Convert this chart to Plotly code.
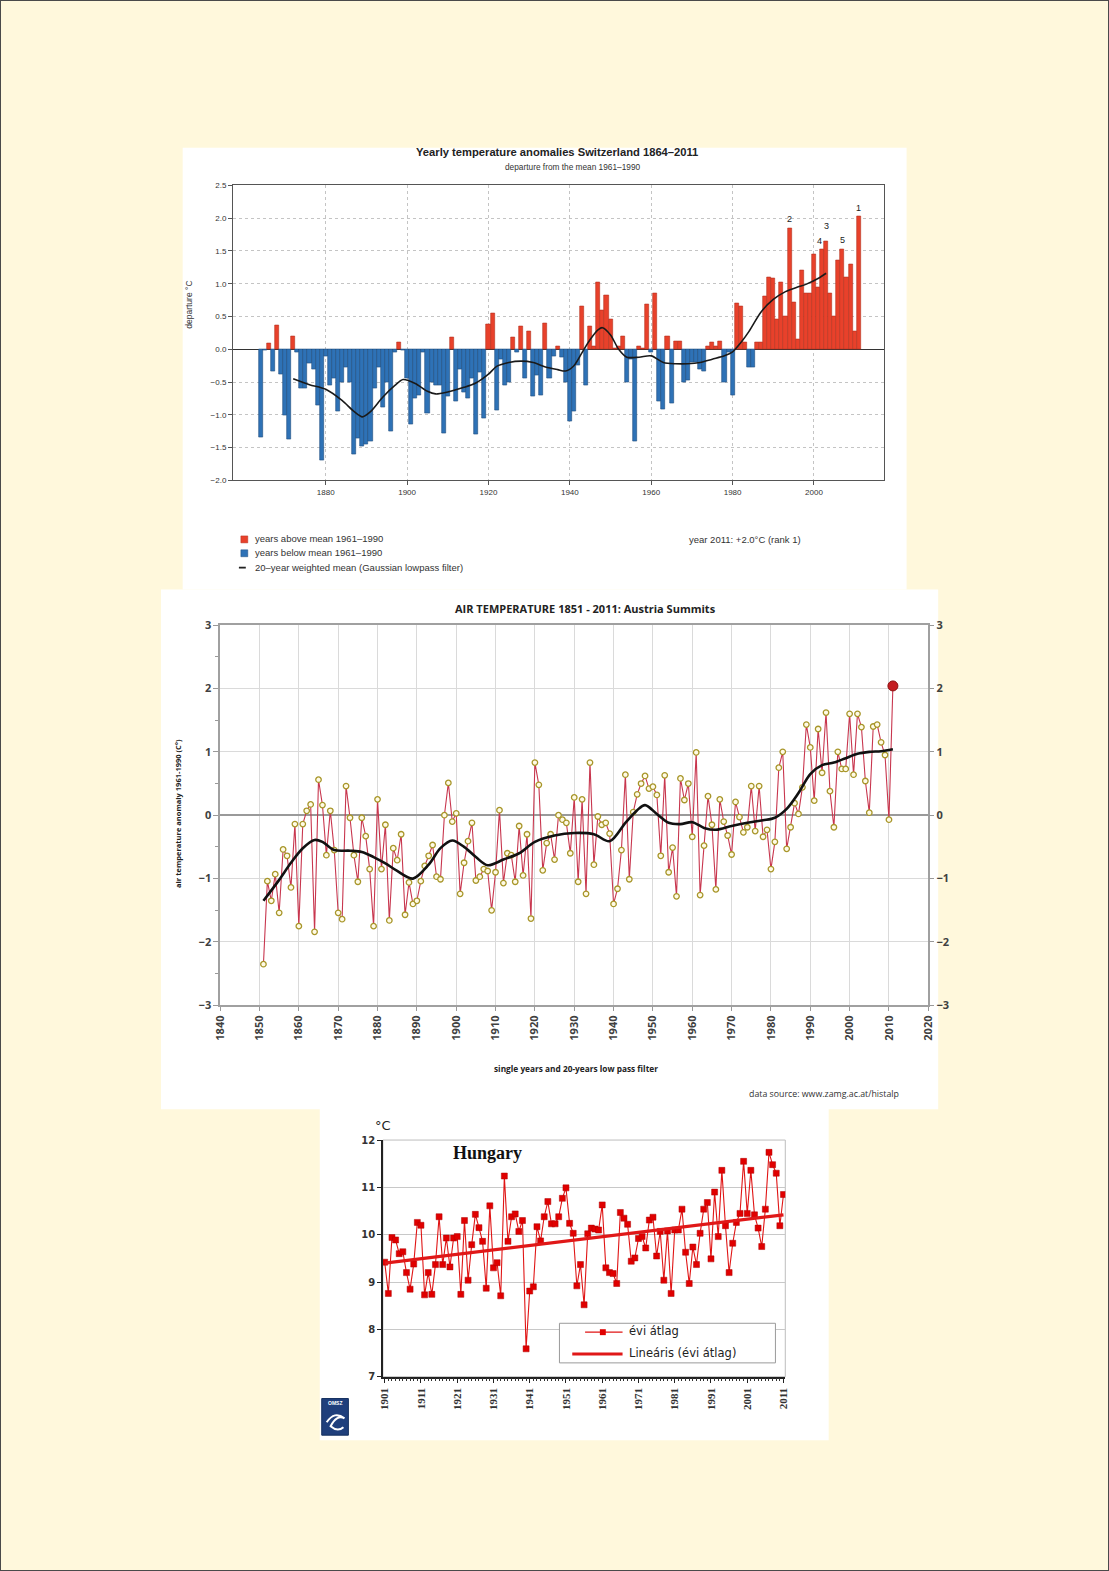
import plotly.graph_objects as go

# design coordinates are in the 1109x1571 page; the figure itself is drawn
# inside the page's 8px body margin.
PAGE_W, PAGE_H = 1109, 1571
OFF = 8
FW, FH = PAGE_W - 2 * OFF, PAGE_H - 2 * OFF
def X(px): return (px - OFF) / FW
def Y(py): return 1 - (py - OFF) / FH

# ---------------- Switzerland (bars) ----------------
ch_years = list(range(1864, 2012))
ch_vals = [
    -1.34, -0.02, 0.09, -0.33, 0.37, -0.38, -1.00, -1.38, 0.20, -0.05,   # 1864-1873
    -0.60, -0.60, -0.22, -0.30, -0.85, -1.70, -0.10, -0.55, -0.45, -0.95,  # 1874-1883
    -0.50, -0.28, -0.50, -1.60, -1.35, -1.48, -1.45, -1.40, -0.60, -0.28,  # 1884-1893
    -0.88, -0.50, -1.25, -0.05, 0.10, -0.02, -0.45, -1.15, -0.75, -0.70,   # 1894-1903
    -0.05, -0.98, -0.50, -0.55, -0.55, -1.28, -0.72, 0.19, -0.80, -0.30,   # 1904-1913
    -0.65, -0.75, -0.45, -1.30, -0.35, -1.05, 0.38, 0.55, -0.93, -0.15,    # 1914-1923
    -0.55, -0.50, 0.18, -0.05, 0.35, -0.45, 0.27, -0.72, -0.40, -0.70,     # 1924-1933
    0.39, -0.45, -0.10, 0.05, -0.12, -0.50, -1.10, -0.95, -0.25, 0.65,     # 1934-1943
    -0.55, 0.35, 0.05, 1.02, 0.60, 0.82, 0.45, 0.02, 0.05, 0.20,           # 1944-1953
    -0.50, -0.15, -1.40, 0.05, 0.02, 0.68, -0.05, 0.85, -0.80, -0.92,      # 1954-1963
    0.20, -0.82, 0.12, 0.12, -0.50, -0.48, -0.20, -0.20, -0.30, -0.33,     # 1964-1973
    0.05, 0.10, 0.05, 0.12, -0.50, -0.05, -0.70, 0.70, 0.65, 0.10,         # 1974-1983
    -0.28, -0.28, 0.10, 0.10, 0.80, 1.10, 1.08, 0.45, 1.02, 0.50,          # 1984-1993
    1.85, 0.72, 0.15, 1.20, 0.85, 0.85, 1.45, 0.95, 1.52, 1.65,            # 1994-2003
    0.85, 0.50, 1.35, 1.53, 1.10, 1.30, 0.28, 2.02                         # 2004-2011
]
ch_smooth_years = [1872, 1876, 1880, 1884, 1887, 1889, 1891, 1894, 1897, 1899,
                   1902, 1905, 1907, 1910, 1914, 1917, 1920, 1922, 1925, 1928,
                   1931, 1934, 1937, 1939, 1941, 1943, 1945, 1947, 1948, 1950,
                   1952, 1954, 1957, 1960, 1963, 1966, 1969, 1972, 1975, 1978,
                   1980, 1982, 1984, 1987, 1990, 1993, 1996, 1998, 2001, 2003]
ch_smooth_vals = [-0.45, -0.54, -0.61, -0.78, -0.95, -1.03, -0.95, -0.73, -0.55, -0.46,
                  -0.52, -0.64, -0.68, -0.65, -0.58, -0.51, -0.38, -0.26, -0.20, -0.18,
                  -0.20, -0.27, -0.31, -0.33, -0.25, -0.05, 0.15, 0.30, 0.33, 0.22,
                  0.00, -0.12, -0.12, -0.10, -0.20, -0.22, -0.22, -0.20, -0.15, -0.10,
                  -0.04, 0.10, 0.27, 0.57, 0.76, 0.88, 0.95, 0.99, 1.08, 1.16]
ch_rank_years = [2011, 1994, 2003, 2002, 2007]
ch_rank_labels = ["1", "2", "3", "4", "5"]
ch_xticks = [1880, 1900, 1920, 1940, 1960, 1980, 2000]

# ---------------- Austria (line) ----------------
aus_years = list(range(1851, 2012))
aus_vals = [
    -2.35, -1.04, -1.35, -0.93, -1.54, -0.54, -0.64, -1.14, -0.14, -1.75,  # 1851-1860
    -0.14, 0.07, 0.17, -1.84, 0.56, 0.16, -0.63, 0.07, -0.55, -1.54,       # 1861-1870
    -1.64, 0.46, -0.04, -0.63, -1.05, -0.04, -0.33, -0.85, -1.75, 0.25,    # 1871-1880
    -0.85, -0.15, -1.66, -0.52, -0.71, -0.30, -1.57, -1.06, -1.40, -1.35,  # 1881-1890
    -1.04, -0.80, -0.64, -0.47, -0.97, -1.01, 0.00, 0.51, -0.10, 0.03,     # 1891-1900
    -1.24, -0.75, -0.41, -0.12, -1.03, -0.97, -0.85, -0.88, -1.50, -0.90,  # 1901-1910
    0.08, -1.07, -0.60, -0.63, -1.05, -0.17, -0.95, -0.30, -1.63, 0.83,    # 1911-1920
    0.48, -0.87, -0.44, -0.30, -0.70, 0.00, -0.07, -0.12, -0.60, 0.28,     # 1921-1930
    -1.05, 0.25, -1.24, 0.83, -0.78, -0.02, -0.15, -0.12, -0.29, -1.40,    # 1931-1940
    -1.16, -0.55, 0.64, -1.01, 0.05, 0.33, 0.50, 0.62, 0.42, 0.45,         # 1941-1950
    0.32, -0.64, 0.63, -0.90, -0.51, -1.28, 0.58, 0.24, 0.50, -0.34,       # 1951-1960
    0.99, -1.26, -0.48, 0.30, -0.15, -1.17, 0.25, -0.10, -0.32, -0.62,     # 1961-1970
    0.21, -0.03, -0.27, -0.19, 0.46, -0.25, 0.46, -0.34, -0.23, -0.85,     # 1971-1980
    -0.42, 0.75, 1.00, -0.53, -0.19, 0.19, 0.02, 0.44, 1.43, 1.07,         # 1981-1990
    0.23, 1.36, 0.67, 1.62, 0.38, -0.19, 1.00, 0.73, 0.73, 1.60,           # 1991-2000
    0.64, 1.60, 1.39, 0.54, 0.04, 1.40, 1.43, 1.15, 0.95, -0.07, 2.04      # 2001-2011
]
aus_smooth_years = [1851, 1855, 1858, 1861, 1864, 1866, 1869, 1873, 1876, 1879,
                    1882, 1885, 1889, 1893, 1896, 1899, 1902, 1905, 1908, 1912,
                    1916, 1920, 1925, 1930, 1935, 1939, 1943, 1946, 1948, 1951,
                    1954, 1957, 1960, 1963, 1966, 1970, 1974, 1978, 1981, 1984,
                    1987, 1990, 1993, 1996, 1999, 2002, 2005, 2008, 2011]
aus_smooth_vals = [-1.35, -1.02, -0.75, -0.52, -0.39, -0.42, -0.55, -0.56, -0.58, -0.66,
                   -0.76, -0.88, -1.00, -0.78, -0.52, -0.40, -0.50, -0.66, -0.79, -0.70,
                   -0.60, -0.42, -0.32, -0.28, -0.30, -0.41, -0.12, 0.08, 0.16, 0.02,
                   -0.12, -0.14, -0.11, -0.20, -0.23, -0.17, -0.12, -0.08, -0.04, 0.10,
                   0.35, 0.65, 0.79, 0.83, 0.90, 0.97, 1.00, 1.01, 1.04]

# ---------------- Hungary (line + trend) ----------------
hu_years = list(range(1901, 2012))
hu_vals = [
    9.42, 8.76, 9.94, 9.89, 9.60, 9.64, 9.20, 8.85, 9.38, 10.26,      # 1901-1910
    10.20, 8.73, 9.20, 8.74, 9.37, 10.38, 9.37, 9.93, 9.32, 9.93,      # 1911-1920
    9.96, 8.74, 10.30, 9.04, 9.79, 10.43, 10.15, 9.86, 8.87, 10.61,    # 1921-1930
    9.30, 9.41, 8.71, 11.24, 9.86, 10.38, 10.44, 10.07, 10.30, 7.59,   # 1931-1940
    8.81, 8.90, 10.17, 9.87, 10.38, 10.70, 10.23, 10.23, 10.38, 10.77, # 1941-1950
    10.99, 10.24, 10.03, 8.92, 9.37, 8.52, 10.02, 10.14, 10.12, 10.10, # 1951-1960
    10.63, 9.30, 9.20, 9.18, 8.97, 10.47, 10.35, 10.22, 9.44, 9.51,    # 1961-1970
    9.92, 9.96, 9.72, 10.31, 10.37, 9.55, 10.07, 9.04, 10.08, 8.76,    # 1971-1980
    10.10, 10.10, 10.54, 9.63, 8.97, 9.74, 9.37, 10.03, 10.54, 10.68,  # 1981-1990
    9.49, 10.90, 9.96, 11.36, 10.19, 9.20, 9.82, 10.26, 10.45, 11.55,  # 1991-2000
    10.45, 11.36, 10.42, 10.14, 9.75, 10.54, 11.74, 11.48, 11.30, 10.19, 10.85  # 2001-2011
]
hu_trend_years = [1901, 2011]
hu_trend_vals = [9.40, 10.42]

# ---------------- colours / fonts ----------------
CREAM = "#FFF8DC"
RED_BAR, RED_EDGE = "#E8412B", "#B4301F"
BLUE_BAR, BLUE_EDGE = "#2E72B6", "#1E4C7C"
SANS = "Liberation Sans, Arial, sans-serif"
CAL = "Open Sans, Lato, sans-serif"

fig = go.Figure()

# Switzerland bars
fig.add_trace(go.Bar(
    x=ch_years, y=ch_vals, xaxis="x", yaxis="y", width=1.0,
    marker=dict(color=[RED_BAR if v > 0 else BLUE_BAR for v in ch_vals],
                line=dict(color=[RED_EDGE if v > 0 else BLUE_EDGE for v in ch_vals], width=0.6)),
    showlegend=False, hoverinfo="x+y"))
fig.add_trace(go.Scatter(
    x=ch_smooth_years, y=ch_smooth_vals, xaxis="x", yaxis="y", mode="lines",
    line=dict(color="#1a1a1a", width=1.6, shape="spline", smoothing=0.8),
    showlegend=False))

# Austria
fig.add_trace(go.Scatter(
    x=aus_years, y=aus_vals, xaxis="x2", yaxis="y2", mode="lines+markers",
    line=dict(color="#C8364E", width=1.1),
    marker=dict(symbol="circle", size=5.5, color="#FFFBE6",
                line=dict(color="#A8962A", width=1.3)),
    showlegend=False))
fig.add_trace(go.Scatter(
    x=aus_smooth_years, y=aus_smooth_vals, xaxis="x2", yaxis="y2", mode="lines",
    line=dict(color="#111111", width=2.6, shape="spline", smoothing=0.9),
    showlegend=False))
fig.add_trace(go.Scatter(
    x=aus_years[-1:], y=aus_vals[-1:], xaxis="x2", yaxis="y2", mode="markers",
    marker=dict(symbol="circle", size=10, color="#C41E22",
                line=dict(color="#8E1010", width=1)),
    showlegend=False))
# invisible helper so that the right-hand axis is drawn
fig.add_trace(go.Scatter(
    x=aus_years[:1], y=aus_vals[:1], xaxis="x2", yaxis="y3", mode="markers",
    marker=dict(opacity=0), showlegend=False, hoverinfo="skip"))

# Hungary
fig.add_trace(go.Scatter(
    x=hu_years, y=hu_vals, xaxis="x3", yaxis="y4", mode="lines+markers",
    line=dict(color="#E01515", width=1.1),
    marker=dict(symbol="square", size=6, color="#E00000",
                line=dict(color="#B00000", width=0.5)),
    showlegend=False))
fig.add_trace(go.Scatter(
    x=hu_trend_years, y=hu_trend_vals, xaxis="x3", yaxis="y4", mode="lines",
    line=dict(color="#E01818", width=3.2), showlegend=False))

# ---------------- axes ----------------
tick_font_ch = dict(family=SANS, size=8, color="#333")
fig.update_layout(
    xaxis=dict(domain=[X(228), X(888)], range=[1857.2, 2017.2], anchor="y",
               tickvals=ch_xticks, ticks="outside", ticklen=4, tickcolor="#555",
               showgrid=True, gridcolor="#C4C4C4", griddash="dot", gridwidth=1,
               showline=True, mirror=True, linecolor="#555", linewidth=1,
               zeroline=False, tickfont=tick_font_ch),
    yaxis=dict(domain=[Y(477), Y(179)], range=[-2, 2.5], anchor="x",
               dtick=0.5, tick0=0, tickformat=".1f", ticks="outside", ticklen=4,
               tickcolor="#555", showgrid=True, gridcolor="#C4C4C4", griddash="dot",
               showline=True, mirror=True, linecolor="#555", linewidth=1,
               zeroline=True, zerolinecolor="#333", zerolinewidth=1,
               tickfont=tick_font_ch),
    xaxis2=dict(domain=[X(215), X(933)], range=[1840, 2020], anchor="y2",
                tick0=1840, dtick=10, tickangle=-90, ticks="outside", ticklen=4,
                tickcolor="#999", showgrid=True, gridcolor="#DADADA", gridwidth=1,
                showline=True, mirror=True, linecolor="#A0A0A0", linewidth=1.5,
                zeroline=False,
                tickfont=dict(family=CAL, size=11, color="#404040", weight="bold")),
    yaxis2=dict(domain=[Y(1007), Y(623)], range=[-3, 3], anchor="x2",
                dtick=1, ticks="outside", ticklen=5, tickcolor="#999",
                minor=dict(dtick=0.5, ticks="outside", ticklen=3, tickcolor="#999"),
                showgrid=True, gridcolor="#DADADA",
                showline=True, mirror=True, linecolor="#A0A0A0", linewidth=1.5,
                zeroline=True, zerolinecolor="#9A9A9A", zerolinewidth=1.5,
                tickfont=dict(family=CAL, size=11, color="#404040", weight="bold")),
    yaxis3=dict(overlaying="y2", side="right", anchor="x2", range=[-3, 3],
                dtick=1, ticks="outside", ticklen=5, tickcolor="#999",
                showgrid=False, zeroline=False, showline=False,
                tickfont=dict(family=CAL, size=11, color="#404040", weight="bold")),
    xaxis3=dict(domain=[X(380), X(788)], range=[1900.5, 2011.5], anchor="y4",
                tick0=1901, dtick=10, tickangle=-90, ticks="outside", ticklen=5,
                tickcolor="#222",
                minor=dict(dtick=1, tick0=1901, ticks="outside", ticklen=3, tickcolor="#333"),
                showgrid=False, zeroline=False,
                showline=True, linecolor="#222", linewidth=1.5,
                tickfont=dict(family="Liberation Serif, serif", size=11, color="#333",
                              weight="bold")),
    yaxis4=dict(domain=[Y(1382), Y(1143)], range=[7, 12], anchor="x3",
                dtick=1, ticks="outside", ticklen=4, tickcolor="#222",
                showgrid=True, gridcolor="#C8C8C8", zeroline=False,
                showline=True, linecolor="#222", linewidth=1.5,
                tickfont=dict(family="DejaVu Sans, sans-serif", size=10, color="#333",
                              weight="bold")),
)

# ---------------- shapes ----------------
shapes = []
def prect(x0, y0, x1, y1, fill=None, line=None, lw=0, layer="below"):
    shapes.append(dict(type="rect", xref="paper", yref="paper",
                       x0=X(x0), x1=X(x1), y0=Y(y1), y1=Y(y0),
                       fillcolor=fill if fill else "rgba(0,0,0,0)",
                       line=dict(color=line if line else "rgba(0,0,0,0)", width=lw),
                       layer=layer))
def pline(x0, y0, x1, y1, color, width, layer="above"):
    shapes.append(dict(type="line", xref="paper", yref="paper",
                       x0=X(x0), x1=X(x1), y0=Y(y0), y1=Y(y1),
                       line=dict(color=color, width=width), layer=layer))

# white panels
prect(177, 141, 911, 587, fill="white")
prect(155, 587, 943, 1112, fill="white")
prect(316, 1110, 832, 1446, fill="white")
# Hungary plot frame (light)
prect(380, 1143, 788, 1382, line="#BDBDBD", lw=1)

# Switzerland legend symbols
prect(236, 533, 243, 540, fill=RED_BAR, line=RED_EDGE, lw=0.5, layer="above")
prect(236, 547, 243, 554, fill=BLUE_BAR, line=BLUE_EDGE, lw=0.5, layer="above")
pline(234, 565, 241, 565, "#222", 1.8)

# Hungary legend
prect(559, 1328, 778, 1368, fill="white", line="#9A9A9A", lw=1, layer="above")
pline(585, 1337, 623, 1337, "#E01515", 1.2)
prect(600, 1334, 606, 1340, fill="#E00000", layer="above")
pline(572, 1359, 623, 1359, "#E01818", 3)

# OMSZ logo
prect(318, 1404, 345, 1441, fill="#1F3F7C", line="#15305F", lw=1, layer="above")
shapes.append(dict(type="path", xref="paper", yref="paper", layer="above",
                   path=f"M {X(323)},{Y(1428)} Q {X(331)},{Y(1416)} {X(341)},{Y(1424)} "
                        f"Q {X(333)},{Y(1420)} {X(327)},{Y(1432)} Q {X(334)},{Y(1438)} {X(340)},{Y(1433)}",
                   line=dict(color="white", width=2)))

fig.update_layout(shapes=shapes)

# ---------------- annotations ----------------
ann = []
def ptxt(text, x, y, size, family=SANS, color="#222", xanchor="center", angle=0, weight=None):
    f = dict(family=family, size=size, color=color)
    if weight:
        f["weight"] = weight
    ann.append(dict(text=text, x=X(x), y=Y(y), xref="paper", yref="paper",
                    xanchor=xanchor, yanchor="middle", showarrow=False,
                    textangle=angle, font=f))

# Switzerland texts
ptxt("<b>Yearly temperature anomalies Switzerland 1864–2011</b>", 557, 145, 11.2)
ptxt("departure from the mean 1961–1990", 573, 160, 8.3, color="#333")
ptxt("departure °C", 184, 300, 8.5, angle=-90, color="#333")
ptxt("years above mean 1961–1990", 248, 536, 9.5, xanchor="left", color="#333")
ptxt("years below mean 1961–1990", 248, 550, 9.5, xanchor="left", color="#333")
ptxt("20–year weighted mean (Gaussian lowpass filter)", 248, 565, 9.5, xanchor="left", color="#333")
ptxt("year 2011: +2.0°C (rank 1)", 688, 537, 9.5, xanchor="left", color="#333")
for yr, lab in zip(ch_rank_years, ch_rank_labels):
    v = ch_vals[ch_years.index(yr)]
    xs = -3 if lab == "4" else 0
    ys = 0 if lab != "3" else 6
    ann.append(dict(text=lab, x=yr, y=v, xref="x", yref="y", showarrow=False,
                    yanchor="bottom", xshift=xs, yshift=2 + ys,
                    font=dict(family=SANS, size=9, color="#222")))

# Austria texts
ptxt("<b>AIR TEMPERATURE 1851 - 2011: Austria Summits</b>", 585, 606, 11, family=CAL)
ptxt("<b>air temperature anomaly 1961-1990 (C°)</b>", 172, 813, 7.5, family=CAL, angle=-90)
ptxt("<b>single years and 20-years low pass filter</b>", 576, 1071, 8.3, family=CAL)
ptxt("data source: www.zamg.ac.at/histalp", 827, 1096, 8.8, family=CAL, color="#333")

# Hungary texts
ptxt("<b>Hungary</b>", 486, 1156, 18, family="Liberation Serif, Times New Roman, serif", color="#111")
ptxt("°C", 370, 1128, 13, family="DejaVu Sans, sans-serif", xanchor="left", color="#222")
ptxt("évi átlag", 627, 1336, 11.5, family="DejaVu Sans, sans-serif", xanchor="left", color="#222")
ptxt("Lineáris (évi átlag)", 627, 1358, 11.5, family="DejaVu Sans, sans-serif", xanchor="left", color="#222")
ptxt("<b>OMSZ</b>", 331.5, 1409, 5, color="white")

fig.update_layout(annotations=ann)

fig.update_layout(
    width=FW, height=FH, margin=dict(l=0, r=0, t=0, b=0),
    paper_bgcolor=CREAM, plot_bgcolor="rgba(0,0,0,0)",
    showlegend=False, bargap=0,
)

fig.write_html("out.html", config={"displayModeBar": False},
               post_script="document.body.style.background='#FFF8DC';"
                           "document.documentElement.style.background='#FFF8DC';"
                           "document.documentElement.style.outline='1px solid #4A4A4A';"
                           "document.documentElement.style.outlineOffset='-1px';")
